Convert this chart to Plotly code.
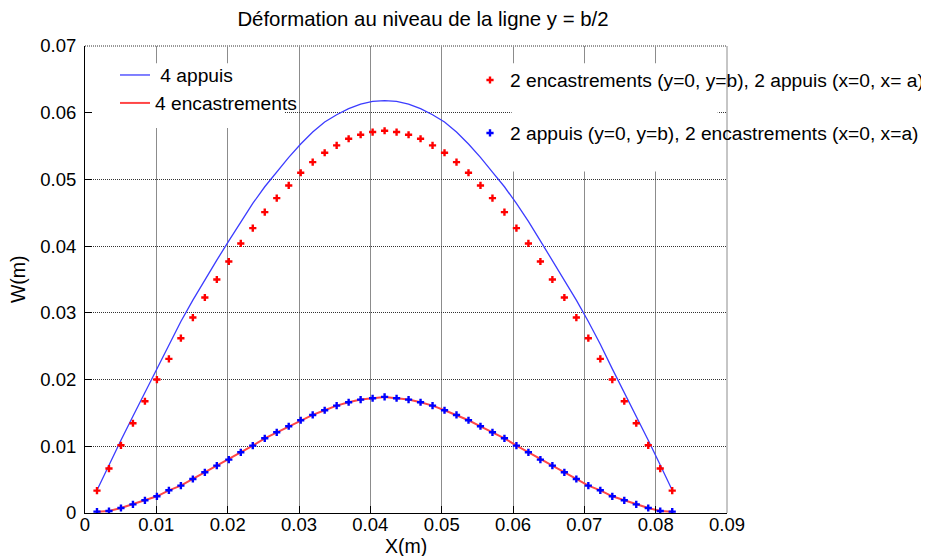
import plotly.graph_objects as go

# ---- data ----
x_pts = [0.00168, 0.00336, 0.00504, 0.00672, 0.0084, 0.01008, 0.01176, 0.01344, 0.01512, 0.0168,
         0.01848, 0.02016, 0.02184, 0.02352, 0.0252, 0.02688, 0.02856, 0.03024, 0.03192, 0.0336,
         0.03528, 0.03696, 0.03864, 0.04032, 0.042, 0.04368, 0.04536, 0.04704, 0.04872, 0.0504,
         0.05208, 0.05376, 0.05544, 0.05712, 0.0588, 0.06048, 0.06216, 0.06384, 0.06552, 0.0672,
         0.06888, 0.07056, 0.07224, 0.07392, 0.0756, 0.07728, 0.07896, 0.08064, 0.08232]

# 4 appuis (blue line)
w_4_appuis = [0.0034, 0.0072, 0.0109, 0.0145, 0.0181, 0.0216, 0.0253, 0.0287, 0.0319, 0.0350,
              0.0379, 0.0408, 0.0437, 0.0464, 0.0489, 0.0511, 0.0533, 0.0553, 0.0571, 0.0586,
              0.0597, 0.0606, 0.0613, 0.0617, 0.0618, 0.0617, 0.0613, 0.0606, 0.0597, 0.0586,
              0.0571, 0.0553, 0.0533, 0.0511, 0.0489, 0.0464, 0.0437, 0.0408, 0.0379, 0.0350,
              0.0319, 0.0287, 0.0253, 0.0216, 0.0181, 0.0145, 0.0109, 0.0072, 0.0034]

# 4 encastrements (red line)
w_4_encastrements = [0.0002, 0.0003, 0.00075, 0.0013, 0.0019, 0.0025, 0.0034, 0.0041, 0.0051, 0.0061,
                     0.0071, 0.0080, 0.0091, 0.0101, 0.0112, 0.0121, 0.0130, 0.0139, 0.0147, 0.0154,
                     0.0161, 0.0166, 0.0170, 0.0172, 0.0174, 0.0172, 0.0170, 0.0166, 0.0161, 0.0154,
                     0.0147, 0.0139, 0.0130, 0.0121, 0.0112, 0.0101, 0.0091, 0.0080, 0.0071, 0.0061,
                     0.0051, 0.0041, 0.0034, 0.0025, 0.0019, 0.0013, 0.00075, 0.0003, 0.0002]

# 2 encastrements (y=0, y=b), 2 appuis (x=0, x=a)  (red +)
w_2enc_2app = [0.00336, 0.00666, 0.01015, 0.01345, 0.01675, 0.0200, 0.0231, 0.0262, 0.0293, 0.0323,
               0.0350, 0.0377, 0.0404, 0.0427, 0.0451, 0.0472, 0.0491, 0.0510, 0.0526, 0.0540,
               0.0551, 0.0561, 0.0567, 0.0571, 0.0573, 0.0571, 0.0567, 0.0561, 0.0551, 0.0540,
               0.0526, 0.0510, 0.0491, 0.0472, 0.0451, 0.0427, 0.0404, 0.0377, 0.0350, 0.0323,
               0.0293, 0.0262, 0.0231, 0.0200, 0.01675, 0.01345, 0.01015, 0.00666, 0.00336]

# 2 appuis (y=0, y=b), 2 encastrements (x=0, x=a)  (blue +)
w_2app_2enc = [0.0002, 0.0003, 0.00075, 0.0013, 0.0019, 0.0025, 0.0034, 0.0041, 0.0051, 0.0061,
               0.0071, 0.0080, 0.0091, 0.0101, 0.0112, 0.0121, 0.0130, 0.0139, 0.0147, 0.0154,
               0.0161, 0.0166, 0.0170, 0.0172, 0.0174, 0.0172, 0.0170, 0.0166, 0.0161, 0.0154,
               0.0147, 0.0139, 0.0130, 0.0121, 0.0112, 0.0101, 0.0091, 0.0080, 0.0071, 0.0061,
               0.0051, 0.0041, 0.0034, 0.0025, 0.0019, 0.0013, 0.00075, 0.0003, 0.0002]

x_ticks = [0, 0.01, 0.02, 0.03, 0.04, 0.05, 0.06, 0.07, 0.08, 0.09]
x_tick_labels = ["0", "0.01", "0.02", "0.03", "0.04", "0.05", "0.06", "0.07", "0.08", "0.09"]
y_ticks = [0, 0.01, 0.02, 0.03, 0.04, 0.05, 0.06, 0.07]
y_tick_labels = ["0", "0.01", "0.02", "0.03", "0.04", "0.05", "0.06", "0.07"]

names = ["\u00a04 appuis", "4 encastrements",
         "2 encastrements (y=0, y=b), 2 appuis (x=0, x= a)",
         "2 appuis (y=0, y=b), 2 encastrements (x=0, x=a)"]

FONT = "Liberation Sans, Arial, sans-serif"
# the page has an 8px body margin, so the figure is 8px smaller on each side
W, H = 921, 548
GRID_V = "#8c8c8c"
GRID_H = "#333333"

fig = go.Figure()
fig.add_trace(go.Scatter(x=x_pts, y=w_4_appuis, mode="lines", name=names[0],
                         line=dict(color="#3c3cff", width=1.3), legend="legend"))
fig.add_trace(go.Scatter(x=x_pts, y=w_4_encastrements, mode="lines", name=names[1],
                         line=dict(color="#ff4646", width=2.0), legend="legend"))
fig.add_trace(go.Scatter(x=x_pts, y=w_2enc_2app, mode="markers", name=names[2],
                         marker=dict(symbol="cross", size=6, color="#ff0000", line=dict(width=0)),
                         legend="legend2", legendgroup="a"))
fig.add_trace(go.Scatter(x=x_pts, y=w_2app_2enc, mode="markers", name=names[3],
                         marker=dict(symbol="cross", size=6, color="#0000ff", line=dict(width=0)),
                         legend="legend2", legendgroup="b"))

# grid lines on the outer edges (top at y=0.07, right at x=0.09)
fig.add_shape(type="line", xref="paper", yref="paper", x0=0, x1=1, y0=1, y1=1,
              line=dict(color=GRID_H, width=1, dash="1px,1px"), layer="between")
fig.add_shape(type="line", xref="paper", yref="paper", x0=1, x1=1, y0=0, y1=1,
              line=dict(color=GRID_V, width=1), layer="above")

# white legend backgrounds hiding the grid
fig.add_shape(type="rect", xref="x", yref="y", x0=0.0001, x1=0.0280, y0=0.0577, y1=0.0674,
              fillcolor="white", line=dict(width=0), layer="between")
fig.add_shape(type="rect", xref="x", yref="y", x0=0.0598, x1=0.0887, y0=0.0512, y1=0.0674,
              fillcolor="white", line=dict(width=0), layer="between")

fig.add_annotation(text="X(m)", xref="paper", yref="paper", x=0.5, y=-0.0713,
                   xanchor="center", yanchor="middle", showarrow=False, font=dict(size=19.5))
fig.add_annotation(text="W(m)", xref="paper", yref="paper", x=-0.105, y=0.5, textangle=-90,
                   xanchor="center", yanchor="middle", showarrow=False, font=dict(size=19.5))

fig.update_layout(
    width=W, height=H,
    margin=dict(l=77, r=202, t=38, b=43, autoexpand=False),
    paper_bgcolor="white", plot_bgcolor="white",
    font=dict(family=FONT, size=18.5, color="black"),
    title=dict(text="Déformation au niveau de la ligne y = b/2", xref="container", yref="container",
               x=415 / W, xanchor="center", y=1 - 11 / H, yanchor="middle",
               font=dict(size=20.4, color="black")),
    legend=dict(xref="container", yref="container", x=107 / W, y=1 - 48 / H,
                xanchor="left", yanchor="top", bgcolor="rgba(0,0,0,0)", borderwidth=0,
                font=dict(size=19.2), itemwidth=30, tracegroupgap=0),
    legend2=dict(xref="container", yref="container", x=462 / W, y=1 - 53 / H,
                 xanchor="left", yanchor="top", bgcolor="rgba(0,0,0,0)", borderwidth=0,
                 font=dict(size=19.2), itemwidth=30, tracegroupgap=25),
)
fig.update_xaxes(range=[0, 0.09], tickvals=x_ticks, ticktext=x_tick_labels,
                 showgrid=True, gridcolor=GRID_V, gridwidth=1,
                 showline=True, linecolor="black", linewidth=1, mirror=False,
                 ticks="inside", ticklen=7, tickcolor="black", zeroline=False,
                 ticklabelstandoff=-5, automargin=False)
fig.update_yaxes(range=[0, 0.07], tickvals=y_ticks, ticktext=y_tick_labels,
                 showgrid=True, gridcolor=GRID_H, gridwidth=1, griddash="1px,1px",
                 showline=True, linecolor="black", linewidth=1, mirror=False,
                 ticks="inside", ticklen=7, tickcolor="black", zeroline=False,
                 ticklabelstandoff=4, automargin=False)

fig.write_html("out.html")
